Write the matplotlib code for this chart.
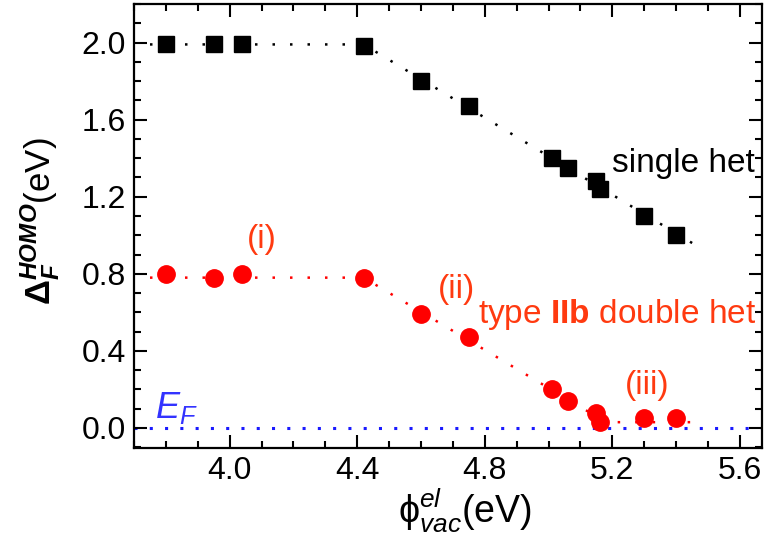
import matplotlib
matplotlib.use("Agg")
import matplotlib.pyplot as plt
from matplotlib.ticker import MultipleLocator
from matplotlib import font_manager

# ---------------- data ----------------
single_x = [3.80, 3.95, 4.04, 4.42, 4.60, 4.75, 5.01, 5.06, 5.15, 5.16, 5.30, 5.40]
single_y = [1.99, 1.99, 1.99, 1.98, 1.80, 1.67, 1.40, 1.35, 1.28, 1.24, 1.10, 1.00]
single_fit_x = [3.75, 4.42, 5.47]
single_fit_y = [1.99, 1.99, 0.94]

double_x = [3.80, 3.95, 4.04, 4.42, 4.60, 4.75, 5.01, 5.06, 5.15, 5.16, 5.30, 5.40]
double_y = [0.80, 0.78, 0.80, 0.78, 0.59, 0.47, 0.20, 0.14, 0.08, 0.03, 0.05, 0.05]
double_fit_x = [3.75, 4.42, 5.18, 5.46]
double_fit_y = [0.78, 0.78, 0.03, 0.03]

ef_x = [3.70, 5.67]
ef_y = [0.0, 0.0]

x_ticks = [4.0, 4.4, 4.8, 5.2, 5.6]
y_ticks = [0.0, 0.4, 0.8, 1.2, 1.6, 2.0]

# ---------------- fonts ----------------
names = {f.name for f in font_manager.fontManager.ttflist}
fam = "Liberation Sans Narrow" if "Liberation Sans Narrow" in names else "Liberation Sans"
plt.rcParams["font.family"] = [fam, "DejaVu Sans"]
plt.rcParams["mathtext.fontset"] = "custom"
plt.rcParams["mathtext.rm"] = fam
plt.rcParams["mathtext.it"] = fam + ":italic"
plt.rcParams["mathtext.bf"] = fam + ":bold"
plt.rcParams["mathtext.bfit"] = fam + ":bold:italic"
plt.rcParams["mathtext.sf"] = fam

fig = plt.figure(figsize=(7.66, 5.35), dpi=100)
ax = fig.add_axes([0.175, 0.1626, 0.82, 0.83])

red = "#ff0000"
txt_red = "#ff3a10"
blue = "#1a1aff"

ax.plot(ef_x, ef_y, linestyle=(0, (1, 4)), color=blue, lw=2.2, zorder=1)
ax.plot(single_fit_x, single_fit_y, linestyle=(0, (1, 6)), color="black", lw=1.8, zorder=2)
ax.plot(double_fit_x, double_fit_y, linestyle=(0, (1, 6)), color=red, lw=1.8, zorder=2)
ax.plot(single_x, single_y, "s", color="black", ms=11.5, zorder=3)
ax.plot(double_x, double_y, "o", color=red, ms=12.5, zorder=3)

ax.set_xlim(3.70, 5.67)
ax.set_ylim(-0.104, 2.20)
ax.set_xticks(x_ticks)
ax.set_yticks(y_ticks)
ax.set_xticklabels([f"{v:.1f}" for v in x_ticks])
ax.set_yticklabels([f"{v:.1f}" for v in y_ticks])
ax.xaxis.set_minor_locator(MultipleLocator(0.1))
ax.yaxis.set_minor_locator(MultipleLocator(0.1))
ax.tick_params(which="both", direction="in", top=True, right=True, width=1.5, labelsize=23, pad=6)
ax.tick_params(which="major", length=9.5)
ax.tick_params(which="minor", length=5)
for s in ax.spines.values():
    s.set_linewidth(1.6)

ax.set_xlabel("\u03d5" + r"$_{\mathit{vac}}^{\mathit{el}}$(eV)", fontsize=27)
ax.xaxis.set_label_coords(0.527, -0.168)
ax.xaxis.label.set_va("baseline")
ax.set_ylabel(r"$\mathbf{\Delta}_{\mathbfit{F}}^{\mathbfit{HOMO}}$(eV)", fontsize=25)
ax.yaxis.set_label_coords(-0.150, 0.51)
ax.yaxis.label.set_va("center")

ax.text(5.20, 1.37, "single het", fontsize=24, color="black", va="center", ha="left")
ax.text(4.10, 0.98, "(i)", fontsize=24, color=txt_red, va="center", ha="center")
ax.text(4.71, 0.72, "(ii)", fontsize=24, color=txt_red, va="center", ha="center")
ax.text(4.78, 0.59, r"type $\mathbf{IIb}$ double het", fontsize=24, color=txt_red, va="center", ha="left")
ax.text(5.31, 0.22, "(iii)", fontsize=24, color=txt_red, va="center", ha="center")
ax.text(3.765, 0.05, r"$\mathit{E}_{\mathit{F}}$", fontsize=26, color="#3333ff", va="baseline", ha="left")

fig.savefig("out.png", dpi=100)
